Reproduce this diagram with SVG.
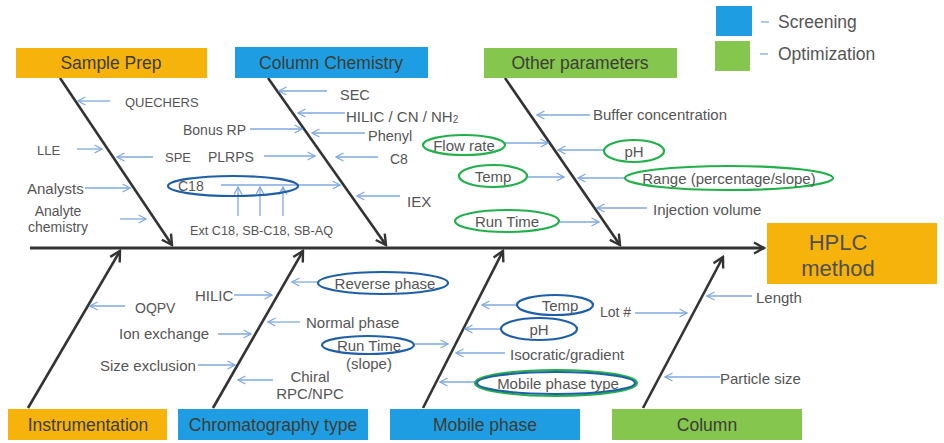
<svg xmlns="http://www.w3.org/2000/svg" width="944" height="443" viewBox="0 0 944 443">
<style>
.bg{fill:#ffffff}
.or{fill:#F6B30C}
.bu{fill:#1E9DE3}
.gr{fill:#84C64E}
.hd{font-family:"Liberation Sans",Arial,sans-serif;font-size:17.5px;fill:#3d3d35;text-anchor:middle;dominant-baseline:central}
.lb{font-family:"Liberation Sans",Arial,sans-serif;font-size:15px;fill:#555555;dominant-baseline:central}
.lg{font-family:"Liberation Sans",Arial,sans-serif;font-size:17.5px;fill:#555555;dominant-baseline:central}
.s13{font-size:13px}
.s14{font-size:14px}
.c{text-anchor:middle}
.bone{stroke:#333333;stroke-width:2.6;fill:none;marker-end:url(#bk)}
.spine{stroke:#333333;stroke-width:3.2;fill:none;marker-end:url(#bk)}
.ar{stroke:#7FAAE0;stroke-width:1.3;fill:none;marker-end:url(#bl)}
.el{stroke:#7FAAE0;stroke-width:1.3;fill:none}
.ob{fill:none;stroke:#1F5FA8;stroke-width:2.2}
.og{fill:none;stroke:#22B04A;stroke-width:2.2}
</style>
<defs>
<marker id="bk" viewBox="0 0 14 14" refX="12" refY="7" markerWidth="14" markerHeight="14" markerUnits="userSpaceOnUse" orient="auto"><path d="M2,1.5 L12,7 L2,12.5" fill="none" stroke="#333333" stroke-width="2.4"/></marker>
<marker id="bl" viewBox="0 0 10 10" refX="9" refY="5" markerWidth="10" markerHeight="10" markerUnits="userSpaceOnUse" orient="auto"><path d="M1.5,1 L9,5 L1.5,9" fill="none" stroke="#7FAAE0" stroke-width="1.3"/></marker>
</defs>
<rect class="bg" x="0" y="0" width="944" height="443"/>

<g id="connectors">
<line class="spine" x1="30" y1="248" x2="764" y2="248"/>
<line class="bone" x1="60" y1="78" x2="172" y2="245"/>
<line class="bone" x1="268" y1="78" x2="386" y2="245"/>
<line class="bone" x1="505" y1="78" x2="620" y2="245"/>
<line class="bone" x1="28" y1="408" x2="120" y2="251"/>
<line class="bone" x1="213" y1="408" x2="303" y2="251"/>
<line class="bone" x1="423" y1="408" x2="503" y2="251"/>
<line class="bone" x1="643" y1="408" x2="723" y2="257"/>
<line class="ar" x1="110" y1="101" x2="78" y2="101"/>
<line class="ar" x1="77" y1="149" x2="102" y2="149"/>
<line class="ar" x1="153" y1="157" x2="117" y2="157"/>
<line class="ar" x1="85" y1="188" x2="130" y2="188"/>
<line class="ar" x1="120" y1="219" x2="146" y2="219"/>
<line class="ar" x1="250" y1="129" x2="302" y2="129"/>
<line class="ar" x1="264" y1="156" x2="315" y2="156"/>
<line class="ar" x1="298" y1="185" x2="340" y2="185"/>
<line class="el" x1="221" y1="185" x2="298" y2="185"/>
<line class="ar" x1="238" y1="216" x2="238" y2="187"/>
<line class="ar" x1="260" y1="216" x2="260" y2="187"/>
<line class="ar" x1="283" y1="216" x2="283" y2="187"/>
<line class="ar" x1="327" y1="91" x2="279" y2="91"/>
<line class="ar" x1="345" y1="113" x2="298" y2="113"/>
<line class="ar" x1="365" y1="133" x2="312" y2="133"/>
<line class="ar" x1="378" y1="157" x2="336" y2="157"/>
<line class="ar" x1="400" y1="196" x2="357" y2="196"/>
<line class="ar" x1="590" y1="115" x2="537" y2="115"/>
<line class="ar" x1="505" y1="143" x2="548" y2="143"/>
<line class="ar" x1="604" y1="150" x2="558" y2="150"/>
<line class="ar" x1="527" y1="177" x2="564" y2="177"/>
<line class="ar" x1="625" y1="178" x2="578" y2="178"/>
<line class="ar" x1="647" y1="208" x2="597" y2="208"/>
<line class="ar" x1="560" y1="222" x2="599" y2="222"/>
<line class="ar" x1="125" y1="306" x2="90" y2="306"/>
<line class="ar" x1="234" y1="295" x2="272" y2="295"/>
<line class="ar" x1="218" y1="334" x2="251" y2="334"/>
<line class="ar" x1="198" y1="365" x2="235" y2="365"/>
<line class="ar" x1="318" y1="282" x2="292" y2="282"/>
<line class="ar" x1="300" y1="322" x2="268" y2="322"/>
<line class="ar" x1="273" y1="380" x2="238" y2="380"/>
<line class="ar" x1="415" y1="344" x2="448" y2="344"/>
<line class="ar" x1="517" y1="305" x2="482" y2="305"/>
<line class="ar" x1="500" y1="329" x2="465" y2="329"/>
<line class="ar" x1="505" y1="353" x2="456" y2="353"/>
<line class="ar" x1="475" y1="382" x2="440" y2="382"/>
<line class="ar" x1="635" y1="313" x2="687" y2="313"/>
<line class="ar" x1="752" y1="296" x2="707" y2="296"/>
<line class="ar" x1="720" y1="377" x2="665" y2="377"/>
</g>

<g id="legend">
<rect class="bu" x="716" y="6" width="36" height="30"/>
<rect class="gr" x="715" y="41" width="35" height="30"/>
<line class="el" x1="761" y1="22" x2="769" y2="22"/>
<line class="el" x1="760" y1="54" x2="768" y2="54"/>
<text class="lg" x="778" y="22">Screening</text>
<text class="lg" x="778" y="54">Optimization</text>
</g>

<g id="sample-prep">
<rect class="or" x="16" y="48" width="191" height="30"/>
<text class="hd" x="111" y="63">Sample Prep</text>
</g>
<g id="column-chemistry">
<rect class="bu" x="235" y="47" width="193" height="31"/>
<text class="hd" x="331" y="63">Column Chemistry</text>
</g>
<g id="other-parameters">
<rect class="gr" x="484" y="48" width="193" height="30"/>
<text class="hd" x="580" y="63">Other parameters</text>
</g>
<g id="hplc-method">
<rect class="or" x="767" y="223" width="170" height="61"/>
<text class="hd" x="838" y="242" style="font-size:22px;fill:#505050">HPLC</text>
<text class="hd" x="838" y="268" style="font-size:22px;fill:#505050">method</text>
</g>
<g id="instrumentation">
<rect class="or" x="8" y="409" width="159" height="31"/>
<text class="hd" x="88" y="425">Instrumentation</text>
</g>
<g id="chromatography-type">
<rect class="bu" x="178" y="409" width="190" height="31"/>
<text class="hd" x="273" y="425">Chromatography type</text>
</g>
<g id="mobile-phase">
<rect class="bu" x="390" y="409" width="190" height="31"/>
<text class="hd" x="485" y="425">Mobile phase</text>
</g>
<g id="column">
<rect class="gr" x="612" y="409" width="190" height="31"/>
<text class="hd" x="707" y="425">Column</text>
</g>

<g id="sample-prep-labels">
<text class="lb s13" x="125" y="102">QUECHERS</text>
<text class="lb s13" x="37" y="150">LLE</text>
<text class="lb s13" x="165" y="157">SPE</text>
<text class="lb" x="27" y="188">Analysts</text>
<text class="lb s14 c" x="58" y="211">Analyte</text>
<text class="lb s14 c" x="58" y="227">chemistry</text>
</g>
<g id="column-chemistry-labels">
<text class="lb s14" x="183" y="130">Bonus RP</text>
<text class="lb s14" x="208" y="157">PLRPS</text>
<ellipse class="ob" cx="233" cy="186" rx="65" ry="10"/>
<text class="lb s14" x="178" y="186">C18</text>
<text class="lb" x="190" y="231" style="font-size:12.7px">Ext C18, SB-C18, SB-AQ</text>
<text class="lb" x="340" y="95" style="font-size:14.5px">SEC</text>
<text class="lb" x="346" y="116">HILIC / CN / NH<tspan font-size="10" dy="3">2</tspan></text>
<text class="lb" x="368" y="136" style="font-size:14.5px">Phenyl</text>
<text class="lb s14" x="390" y="159">C8</text>
<text class="lb" x="407" y="201">IEX</text>
</g>
<g id="other-parameters-labels">
<text class="lb" x="593" y="114">Buffer concentration</text>
<ellipse class="og" cx="464" cy="145" rx="41" ry="10"/>
<text class="lb c" x="464" y="145">Flow rate</text>
<ellipse class="og" cx="634" cy="151" rx="30" ry="11"/>
<text class="lb c" x="634" y="151">pH</text>
<ellipse class="og" cx="493" cy="176" rx="34" ry="11"/>
<text class="lb c" x="493" y="176">Temp</text>
<ellipse class="og" cx="729" cy="178" rx="104" ry="12"/>
<text class="lb c" x="729" y="178">Range (percentage/slope)</text>
<text class="lb" x="653" y="209">Injection volume</text>
<ellipse class="og" cx="507" cy="221" rx="52" ry="11"/>
<text class="lb c" x="507" y="221">Run Time</text>
</g>
<g id="instrumentation-labels">
<text class="lb s14" x="135" y="308">OQPV</text>
</g>
<g id="chromatography-type-labels">
<text class="lb" x="195" y="295">HILIC</text>
<text class="lb" x="119" y="333">Ion exchange</text>
<text class="lb" x="100" y="365">Size exclusion</text>
<ellipse class="ob" cx="383" cy="283" rx="65" ry="11"/>
<text class="lb c" x="385" y="283">Reverse phase</text>
<text class="lb" x="306" y="322">Normal phase</text>
<ellipse class="ob" cx="368" cy="345" rx="46" ry="9"/>
<text class="lb c" x="369" y="345">Run Time</text>
<text class="lb c" x="369" y="363">(slope)</text>
<text class="lb c" x="310" y="376">Chiral</text>
<text class="lb c" x="310" y="393">RPC/NPC</text>
</g>
<g id="mobile-phase-labels">
<ellipse class="ob" cx="555" cy="305" rx="38" ry="10"/>
<text class="lb c" x="560" y="305">Temp</text>
<ellipse class="ob" cx="539" cy="329" rx="38" ry="11"/>
<text class="lb c" x="539" y="329">pH</text>
<text class="lb" x="510" y="354">Isocratic/gradient</text>
<ellipse class="og" cx="556" cy="383" rx="81" ry="13"/>
<ellipse class="ob" cx="556" cy="383" rx="79" ry="11"/>
<text class="lb c" x="558" y="383">Mobile phase type</text>
<text class="lb s14" x="600" y="312">Lot #</text>
</g>
<g id="column-labels">
<text class="lb" x="756" y="297">Length</text>
<text class="lb" x="720" y="378">Particle size</text>
</g>
</svg>
